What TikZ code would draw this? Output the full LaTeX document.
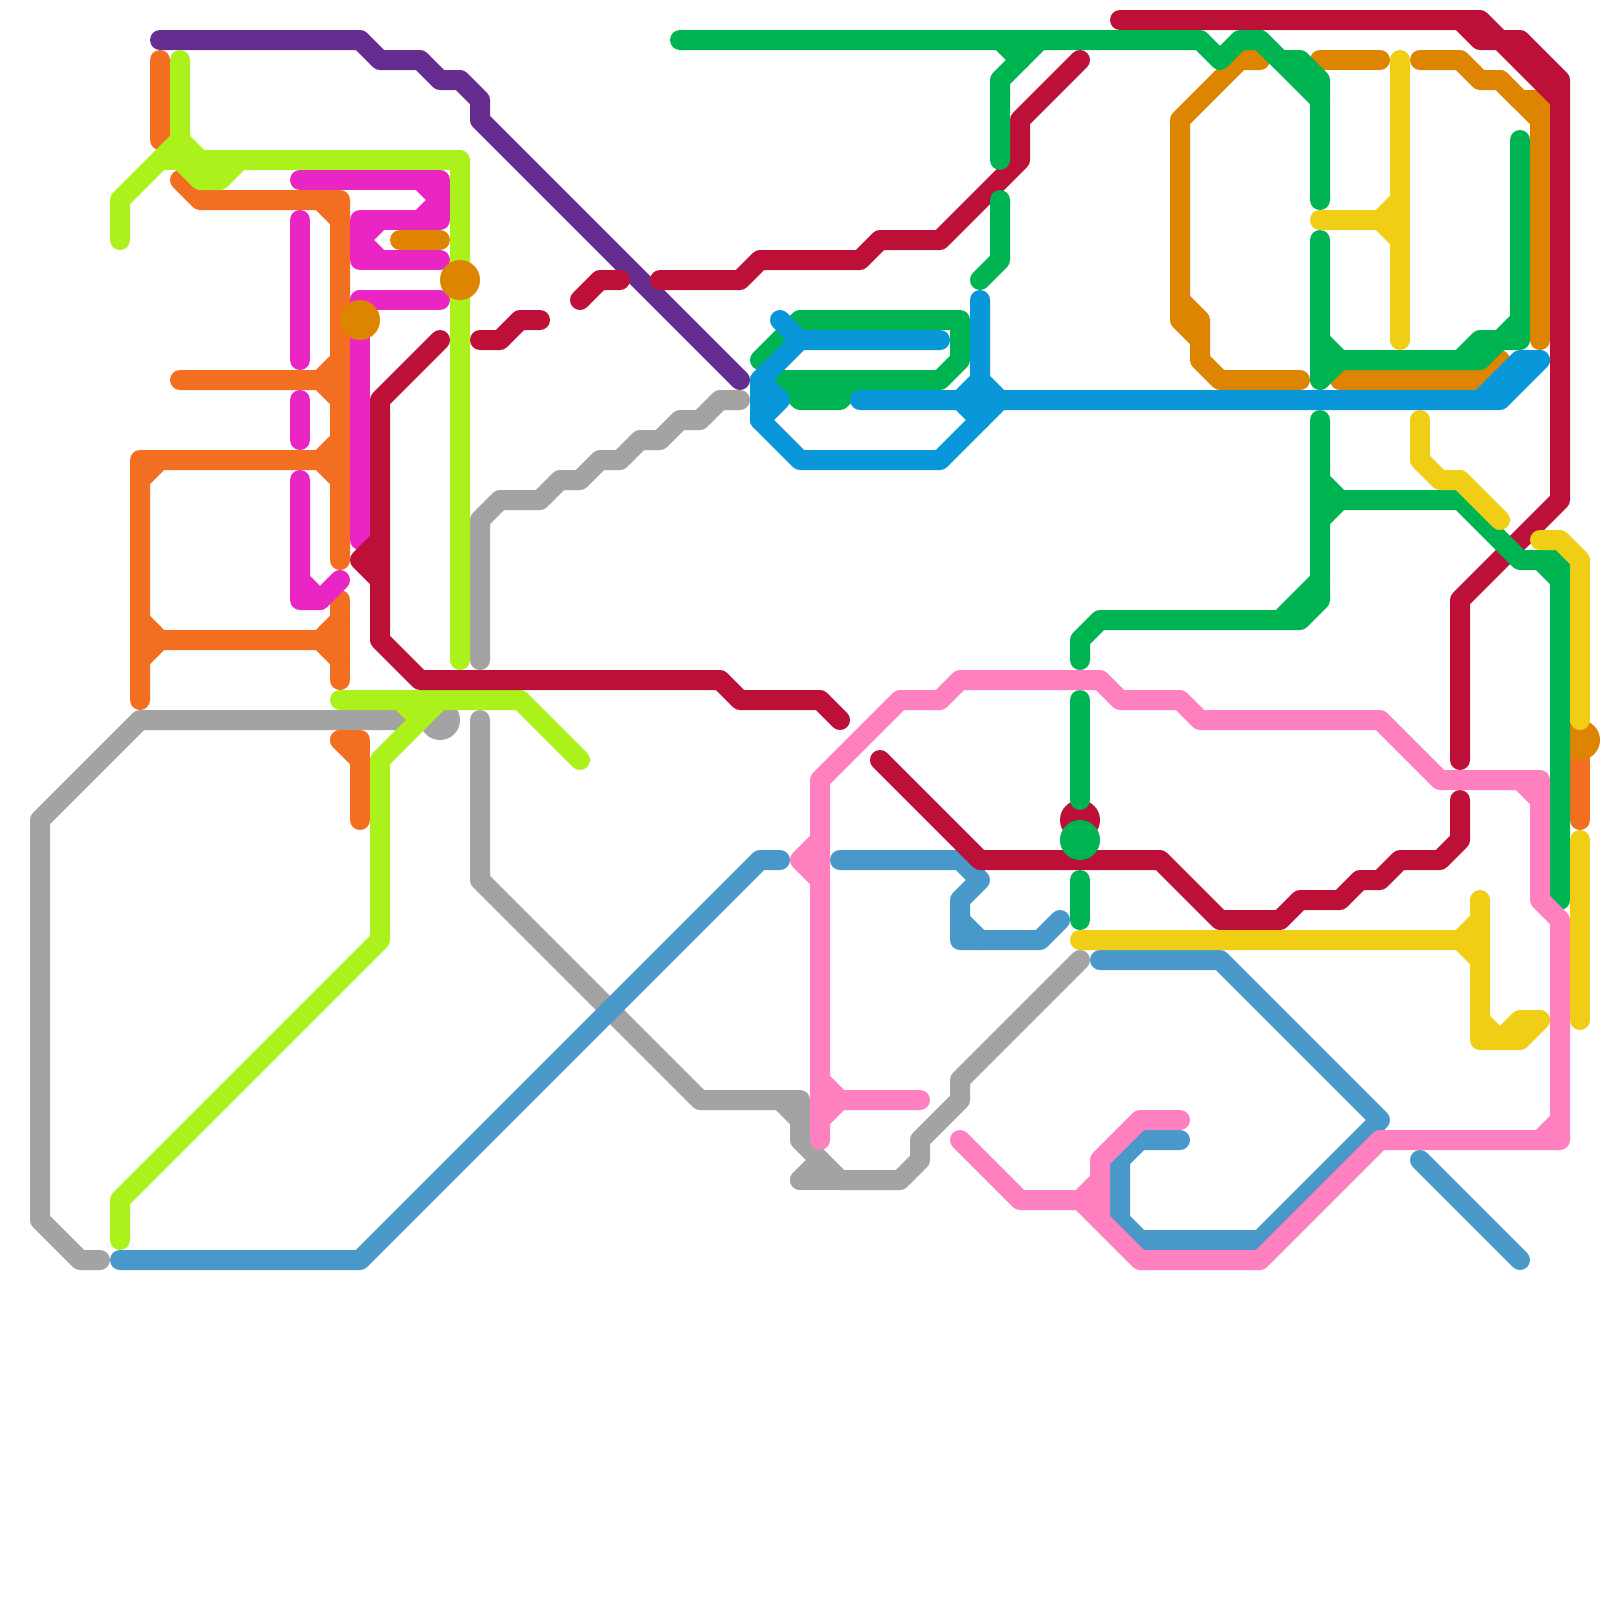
\documentclass[tikz,border=0pt]{standalone}
\definecolor{cgray}{HTML}{A3A3A3}
\definecolor{csteel}{HTML}{4898CA}
\definecolor{cpurple}{HTML}{662D91}
\definecolor{corange}{HTML}{F26E21}
\definecolor{clime}{HTML}{ABF21D}
\definecolor{cmag}{HTML}{E926C3}
\definecolor{cred}{HTML}{BC1038}
\definecolor{cdark}{HTML}{DD8500}
\definecolor{cpink}{HTML}{FF80BF}
\definecolor{cgreen}{HTML}{00B451}
\definecolor{cblue}{HTML}{0A97D9}
\definecolor{cyellow}{HTML}{F0CE15}
\tikzset{
  route/.style={line width=0.5cm,line cap=round,line join=round,draw=#1},
  stationdot/.style={fill=#1,draw=none}
}
\begin{document}
\begin{tikzpicture}[x=0.5cm,y=-0.5cm]
\useasboundingbox (0,0) rectangle (80,80);
\fill[white] (0,0) rectangle (80,80);
% gray
\fill[stationdot=cgray] (22,36) circle[radius=0.5cm];
\draw[route=cgray] (24,33)--(24,26)--(25,25)--(27,25)--(28,24)--(29,24)--(30,23)--(31,23)--(32,22)--(33,22)--(34,21)--(35,21)--(36,20)--(37,20);
\draw[route=cgray] (5,63)--(4,63)--(2,61)--(2,41)--(7,36)--(21,36);
\draw[route=cgray] (24,36)--(24,44)--(35,55)--(40,55)--(40,57)--(42,59)--(45,59)--(46,58)--(46,57)--(48,55)--(48,54)--(54,48);
\draw[route=cgray] (39,55)--(40,56);
\draw[route=cgray] (40,59)--(41,58);
\draw[route=cgray] (40,59)--(42,59);
% steel
\draw[route=csteel] (6,63)--(18,63)--(38,43)--(39,43);
\draw[route=csteel] (42,43)--(48,43)--(49,44)--(48,45)--(48,47)--(52,47)--(53,46);
\draw[route=csteel] (48,46)--(49,47);
\draw[route=csteel] (55,48)--(61,48)--(69,56)--(63,62)--(57,62)--(56,61)--(56,58)--(57,57)--(59,57);
\draw[route=csteel] (71,58)--(76,63);
% purple
\draw[route=cpurple] (8,2)--(18,2)--(19,3)--(21,3)--(22,4)--(23,4)--(24,5)--(24,6)--(37,19);
% orange
\draw[route=corange] (8,3)--(8,7);
\draw[route=corange] (9,9)--(10,10)--(17,10)--(17,28);
\draw[route=corange] (16,10)--(17,11);
\draw[route=corange] (9,19)--(16,19)--(17,18);
\draw[route=corange] (16,19)--(17,20);
\draw[route=corange] (7,35)--(7,23)--(16,23)--(17,22);
\draw[route=corange] (16,23)--(17,24);
\draw[route=corange] (7,24)--(8,23);
\draw[route=corange] (17,30)--(17,34);
\draw[route=corange] (7,31)--(8,32)--(16,32)--(17,31);
\draw[route=corange] (16,32)--(17,33);
\draw[route=corange] (8,32)--(7,33);
\draw[route=corange] (17,37)--(18,37)--(18,41);
\draw[route=corange] (17,37)--(18,38);
\draw[route=corange] (79,37)--(79,41);
% lime
\draw[route=clime] (9,3)--(9,7)--(10,8)--(23,8)--(23,33);
\draw[route=clime] (9,7)--(6,10)--(6,12);
\draw[route=clime] (8,8)--(10,8);
\draw[route=clime] (9,8)--(10,9)--(11,9)--(12,8);
\draw[route=clime] (17,35)--(26,35)--(29,38);
\draw[route=clime] (20,35)--(21,36);
\draw[route=clime] (22,35)--(19,38)--(19,47)--(6,60)--(6,62);
% magenta
\draw[route=cmag] (15,9)--(22,9)--(22,11)--(18,11)--(18,13)--(22,13);
\draw[route=cmag] (21,9)--(22,10)--(21,11);
\draw[route=cmag] (19,11)--(18,12)--(19,13);
\draw[route=cmag] (15,11)--(15,18);
\draw[route=cmag] (18,15)--(22,15);
\draw[route=cmag] (15,20)--(15,22);
\draw[route=cmag] (15,24)--(15,30)--(16,30)--(17,29);
\draw[route=cmag] (15,29)--(16,30);
\draw[route=cmag] (18,15)--(18,27);
% dark orange
\draw[route=cdark] (20,12)--(22,12);
\draw[route=cdark] (63,3)--(62,3)--(59,6)--(59,16)--(60,17)--(60,18)--(61,19)--(65,19);
\draw[route=cdark] (59,15)--(60,16)--(60,17);
\draw[route=cdark] (66,3)--(69,3);
\draw[route=cdark] (71,3)--(73,3)--(74,4)--(75,4)--(76,5)--(77,5)--(77,17);
\draw[route=cdark] (75,4)--(77,6);
\draw[route=cdark] (67,19)--(74,19)--(75,18);
% red
\draw[route=cred] (22,17)--(19,20)--(19,32)--(21,34)--(36,34)--(37,35)--(41,35)--(42,36);
\draw[route=cred] (19,27)--(18,28)--(19,29);
\draw[route=cred] (24,17)--(25,17)--(26,16)--(27,16);
\draw[route=cred] (29,15)--(30,14)--(31,14);
\draw[route=cred] (33,14)--(37,14)--(38,13)--(43,13)--(44,12)--(47,12)--(51,8)--(51,6)--(54,3);
\draw[route=cred] (56,1)--(74,1)--(75,2)--(76,2)--(78,4)--(78,25)--(73,30)--(73,38);
\draw[route=cred] (73,1)--(74,2)--(75,2)--(78,5);
\draw[route=cred] (44,38)--(49,43)--(58,43)--(61,46)--(64,46)--(65,45)--(67,45)--(68,44)--(69,44)--(70,43)--(72,43)--(73,42)--(73,40);
% stations
\fill[stationdot=cdark] (18,16) circle[radius=0.5cm];
\fill[stationdot=cdark] (23,14) circle[radius=0.5cm];
\fill[stationdot=cdark] (79,37) circle[radius=0.5cm];
\fill[stationdot=cred] (54,41) circle[radius=0.5cm];
% green
\fill[stationdot=cgreen] (54,42) circle[radius=0.5cm];
\draw[route=cgreen] (34,2)--(60,2)--(61,3)--(62,2)--(63,2)--(64,3)--(65,3)--(66,4)--(66,10);
\draw[route=cgreen] (63,2)--(66,5);
\draw[route=cgreen] (50,2)--(51,3);
\draw[route=cgreen] (52,2)--(50,4)--(50,8);
\draw[route=cgreen] (49,14)--(50,13)--(50,10);
\draw[route=cgreen] (38,18)--(40,16)--(48,16)--(48,18)--(47,19)--(39,19)--(40,20)--(42,20)--(43,19);
\draw[route=cgreen] (66,12)--(66,19)--(67,18)--(74,18)--(75,17)--(76,17)--(76,7);
\draw[route=cgreen] (66,17)--(67,18);
\draw[route=cgreen] (73,18)--(74,17)--(75,17)--(76,16);
\draw[route=cgreen] (54,33)--(54,32)--(55,31)--(65,31)--(66,30)--(66,21);
\draw[route=cgreen] (64,31)--(66,29);
\draw[route=cgreen] (66,26)--(67,25)--(73,25)--(76,28)--(78,28)--(78,45);
\draw[route=cgreen] (77,28)--(78,29);
\draw[route=cgreen] (66,24)--(67,25);
\draw[route=cgreen] (54,35)--(54,40);
\draw[route=cgreen] (54,44)--(54,46);
% pink
\draw[route=cpink] (41,57)--(41,39)--(45,35)--(47,35)--(48,34)--(55,34)--(56,35)--(59,35)--(60,36)--(69,36)--(72,39)--(77,39)--(77,45)--(78,46)--(78,57)--(69,57)--(63,63)--(57,63)--(54,60)--(51,60)--(48,57);
\draw[route=cpink] (76,39)--(77,40);
\draw[route=cpink] (77,57)--(78,56);
\draw[route=cpink] (54,60)--(55,59);
\draw[route=cpink] (55,61)--(55,58)--(57,56)--(59,56);
\draw[route=cpink] (41,42)--(40,43)--(41,44);
\draw[route=cpink] (41,54)--(42,55)--(46,55);
\draw[route=cpink] (42,55)--(41,56);
% blue
\draw[route=cblue] (39,16)--(40,17)--(47,17);
\draw[route=cblue] (40,17)--(38,19)--(38,21)--(40,23)--(47,23)--(50,20);
\draw[route=cblue] (38,19)--(39,20)--(38,21);
\draw[route=cblue] (43,20)--(75,20)--(77,18)--(76,18)--(74,20);
\draw[route=cblue] (49,15)--(49,19)--(50,20);
\draw[route=cblue] (49,19)--(48,20)--(49,21);
% yellow
\draw[route=cyellow] (70,3)--(70,17);
\draw[route=cyellow] (66,11)--(69,11)--(70,10);
\draw[route=cyellow] (69,11)--(70,12);
\draw[route=cyellow] (71,21)--(71,23)--(72,24)--(73,24)--(75,26);
\draw[route=cyellow] (77,27)--(78,27)--(79,28)--(79,36);
\draw[route=cyellow] (79,42)--(79,51);
\draw[route=cyellow] (54,47)--(73,47)--(74,46);
\draw[route=cyellow] (73,47)--(74,48);
\draw[route=cyellow] (74,45)--(74,52)--(76,52)--(77,51)--(76,51)--(75,52)--(74,51);
\end{tikzpicture}
\end{document}
